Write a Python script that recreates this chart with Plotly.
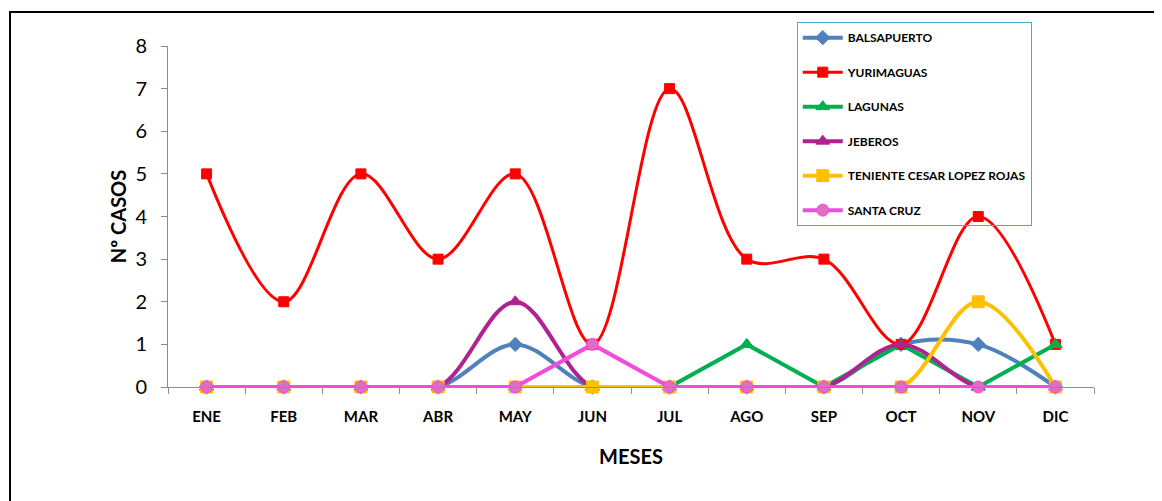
'''
    Casos por mes y distrito: line chart with smoothed and straight series.
'''

import plotly.graph_objects as go

MESES = ["ENE", "FEB", "MAR", "ABR", "MAY", "JUN",
         "JUL", "AGO", "SEP", "OCT", "NOV", "DIC"]

BALSAPUERTO = [0, 0, 0, 0, 1, 0, 0, 0, 0, 1, 1, 0]
YURIMAGUAS = [5, 2, 5, 3, 5, 1, 7, 3, 3, 1, 4, 1]
LAGUNAS = [0, 0, 0, 0, 0, 0, 0, 1, 0, 1, 0, 1]
JEBEROS = [0, 0, 0, 0, 2, 0, 0, 0, 0, 1, 0, 0]
TENIENTE = [0, 0, 0, 0, 0, 0, 0, 0, 0, 0, 2, 0]
SANTA_CRUZ = [0, 0, 0, 0, 0, 1, 0, 0, 0, 0, 0, 0]

# name, values, line colour, marker colour, symbol, marker size, smoothed
SERIES = [
    ("BALSAPUERTO", BALSAPUERTO, "#4F81BD", "#4F81BD", "diamond", 11, True),
    ("YURIMAGUAS", YURIMAGUAS, "#FF0000", "#FF0000", "square", 10, True),
    ("LAGUNAS", LAGUNAS, "#00B050", "#00B050", "triangle-up", 12, False),
    ("JEBEROS", JEBEROS, "#B0228F", "#B0228F", "triangle-up", 12, True),
    ("TENIENTE CESAR LOPEZ ROJAS", TENIENTE, "#FFC000", "#FFC000", "square", 12, True),
    ("SANTA CRUZ", SANTA_CRUZ, "#F14CDA", "#E06CC6", "circle", 12, False),
]

LABEL_FONT = "Liberation Sans Narrow, Arial Narrow, Lato, sans-serif"


def init_figure():
    # the page adds an 8px body margin, so margins are 8px smaller than the target
    fig = go.Figure()
    fig.update_layout(
        width=1162, height=501,
        margin=dict(l=160, r=76, t=38, b=122),
        paper_bgcolor="white", plot_bgcolor="white",
        showlegend=True,
        legend=dict(
            x=0.679, y=1.07, xanchor="left", yanchor="top",
            bgcolor="rgba(0,0,0,0)", bordercolor="#4BACC6", borderwidth=1,
            font=dict(family=LABEL_FONT, size=12, color="black", weight="bold"),
            tracegroupgap=15.5, itemwidth=40,
        ),
    )
    return fig


def draw(fig):
    for i, (name, vals, lcol, mcol, sym, msize, smooth) in enumerate(SERIES):
        fig.add_trace(go.Scatter(
            x=MESES, y=vals, name=name, mode="lines+markers",
            legendgroup="g%d" % i,
            line=dict(color=lcol, width=3 if name == "YURIMAGUAS" else 4,
                      shape="spline" if smooth else "linear", smoothing=1.0),
            marker=dict(symbol=sym, size=msize, color=mcol,
                        line=dict(color=lcol, width=1)),
            cliponaxis=False,
        ))
    return fig


def style_axes(fig):
    fig.update_xaxes(
        type="category", range=[-0.5, 11.5],
        showline=True, linecolor="#8C8C8C", linewidth=1,
        ticks="outside", tickson="boundaries", ticklen=6, tickcolor="#8C8C8C",
        showgrid=False, zeroline=False,
        ticklabelstandoff=16,
        tickfont=dict(family=LABEL_FONT, size=15, color="black", weight="bold"),
        title=dict(text="MESES", standoff=25,
                   font=dict(family=LABEL_FONT, size=20, color="black", weight="bold")),
    )
    fig.update_yaxes(
        range=[0, 8], dtick=1,
        showline=True, linecolor="#8C8C8C", linewidth=1,
        ticks="outside", ticklen=6, tickcolor="#8C8C8C",
        showgrid=False, zeroline=False,
        tickfont=dict(family="Lato, Open Sans, sans-serif", size=20, color="black"),
        ticklabelstandoff=10,
        title=dict(text="Nº CASOS", standoff=3,
                   font=dict(family="Lato, Open Sans, sans-serif", size=20,
                             color="black", weight="bold")),
    )
    # outer chart frame (runs off the right and bottom of the page)
    fig.add_shape(type="rect", xref="paper", yref="paper",
                  x0=-0.1706, x1=1.09, y0=-0.4, y1=1.0997,
                  line=dict(color="black", width=2), layer="below")
    return fig


fig = init_figure()
fig = draw(fig)
fig = style_axes(fig)
fig.write_html("out.html")
